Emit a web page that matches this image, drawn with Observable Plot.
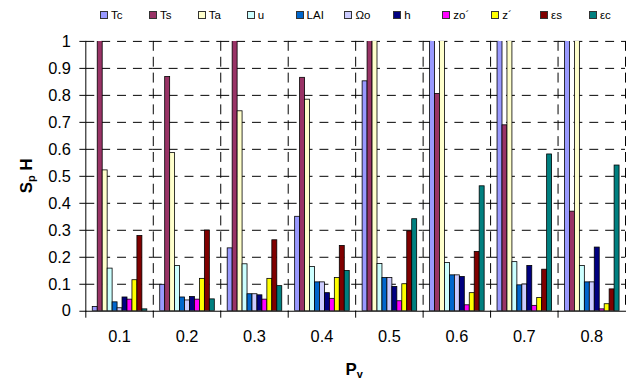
<!DOCTYPE html>
<html><head><meta charset="utf-8">
<script src="https://cdn.jsdelivr.net/npm/d3@7"></script>
<script src="https://cdn.jsdelivr.net/npm/@observablehq/plot@0.6"></script>
<style>
body{margin:0;background:#fff;font-family:"Liberation Sans",Arial,sans-serif;}
#wrap{width:628px;height:387px;overflow:hidden;position:relative;background:#fff;}
#legend{height:28px;display:flex;padding-left:100px;align-items:center;font-size:11.5px;box-sizing:border-box;padding-top:2px;}
.item{width:48.9px;display:flex;align-items:center;flex:none;white-space:nowrap;}
.sw{width:6px;height:6px;border:1px solid #333;margin-right:3px;flex:none;}
</style></head><body><div id="wrap"><div id="legend"></div><div id="chart"></div></div>
<script>
const groups = ["0.1", "0.2", "0.3", "0.4", "0.5", "0.6", "0.7", "0.8"];
const series = ["Tc", "Ts", "Ta", "u", "LAI", "Ωo", "h", "zo´", "z´", "εs", "εc"];
const colors = ["#9999FF", "#993366", "#FFFFCC", "#CCFFFF", "#0066CC", "#CCCCFF", "#000080", "#FF00FF", "#FFFF00", "#800000", "#008080"];
const Tc  = [0.016, 0.098, 0.233, 0.350, 0.852, 1.2, 1.6, 2.0];
const Ts  = [1.1, 0.868, 1.05, 0.865, 1.1, 0.805, 0.689, 0.369];
const Ta  = [0.522, 0.586, 0.741, 0.784, 1.1, 1.3, 1.6, 2.0];
const u   = [0.158, 0.168, 0.174, 0.164, 0.175, 0.179, 0.182, 0.168];
const LAI = [0.033, 0.051, 0.063, 0.107, 0.123, 0.133, 0.096, 0.107];
const Wo  = [0.011, 0.040, 0.063, 0.107, 0.123, 0.133, 0.099, 0.107];
const h   = [0.051, 0.053, 0.059, 0.067, 0.090, 0.127, 0.168, 0.236];
const zo  = [0.043, 0.043, 0.043, 0.046, 0.037, 0.022, 0.020, 0.007];
const z   = [0.115, 0.120, 0.120, 0.123, 0.100, 0.067, 0.049, 0.026];
const es  = [0.279, 0.299, 0.263, 0.242, 0.296, 0.220, 0.154, 0.081];
const ec  = [0.007, 0.044, 0.093, 0.149, 0.341, 0.463, 0.581, 0.540];
const seriesValues = [Tc, Ts, Ta, u, LAI, Wo, h, zo, z, es, ec];
const yTicks = [0, 0.1, 0.2, 0.3, 0.4, 0.5, 0.6, 0.7, 0.8, 0.9, 1];

const data = [];
groups.forEach((g, gi) => series.forEach((s, si) => data.push({group: g, series: s, value: seriesValues[si][gi]})));

// legend
const leg = document.getElementById("legend");
series.forEach((s, i) => {
  const it = document.createElement("div"); it.className = "item";
  const sw = document.createElement("span"); sw.className = "sw"; sw.style.background = colors[i];
  const tx = document.createElement("span"); tx.textContent = s;
  it.appendChild(sw); it.appendChild(tx); leg.appendChild(it);
});

const dash = "9,7";
const chart = Plot.plot({
  width: 633, height: 359, marginLeft: 83, marginRight: 0, marginTop: 13, marginBottom: 74,
  style: {fontFamily: "Liberation Sans, Arial, sans-serif", fontSize: "16.5px", background: "white", color: "#000"},
  fx: {domain: groups, padding: 0, label: null},
  x: {domain: series, paddingInner: 0, paddingOuter: 0.58, axis: null},
  y: {domain: [0, 1]},
  color: {domain: series, range: colors},
  marks: [
    Plot.gridY({ticks: yTicks.slice(1), stroke: "#000", strokeOpacity: 1, strokeDasharray: dash}),
    Plot.frame({anchor: "right", stroke: "#000", strokeDasharray: dash}),
    Plot.barY(data, {fx: "group", x: "series", y: "value", fill: "series", stroke: "#000", strokeWidth: 0.8, clip: true}),
    Plot.frame({anchor: "bottom", stroke: "#000"}),
    Plot.frame({anchor: "left", stroke: "#000", facetAnchor: "left"}),
    Plot.frame({anchor: "left", stroke: "#000", insetTop: 272, insetBottom: -6}),
    Plot.axisY({ticks: yTicks, tickSize: 6, tickPadding: 9, tickFormat: d => String(+d.toFixed(1)), label: null}),
    Plot.axisFx({anchor: "bottom", tickSize: 0, tickPadding: 19, label: null})
  ]
});
document.getElementById("chart").appendChild(chart);

const svg = d3.select(chart);
const yt = svg.append("text").attr("transform", "translate(32,149) rotate(-90)")
  .attr("text-anchor", "middle").attr("font-weight", "bold").attr("font-size", 17)
  .attr("font-family", "Liberation Sans, Arial, sans-serif").attr("fill", "#000");
yt.append("tspan").text("S");
yt.append("tspan").attr("font-size", 11).attr("dy", 3).text("p");
yt.append("tspan").attr("dy", -3).text(" H");
const xt = svg.append("text").attr("x", 357).attr("y", 350)
  .attr("text-anchor", "middle").attr("font-weight", "bold").attr("font-size", 17)
  .attr("font-family", "Liberation Sans, Arial, sans-serif").attr("fill", "#000");
xt.append("tspan").text("P");
xt.append("tspan").attr("font-size", 11).attr("dy", 3).text("v");
</script></body></html>
